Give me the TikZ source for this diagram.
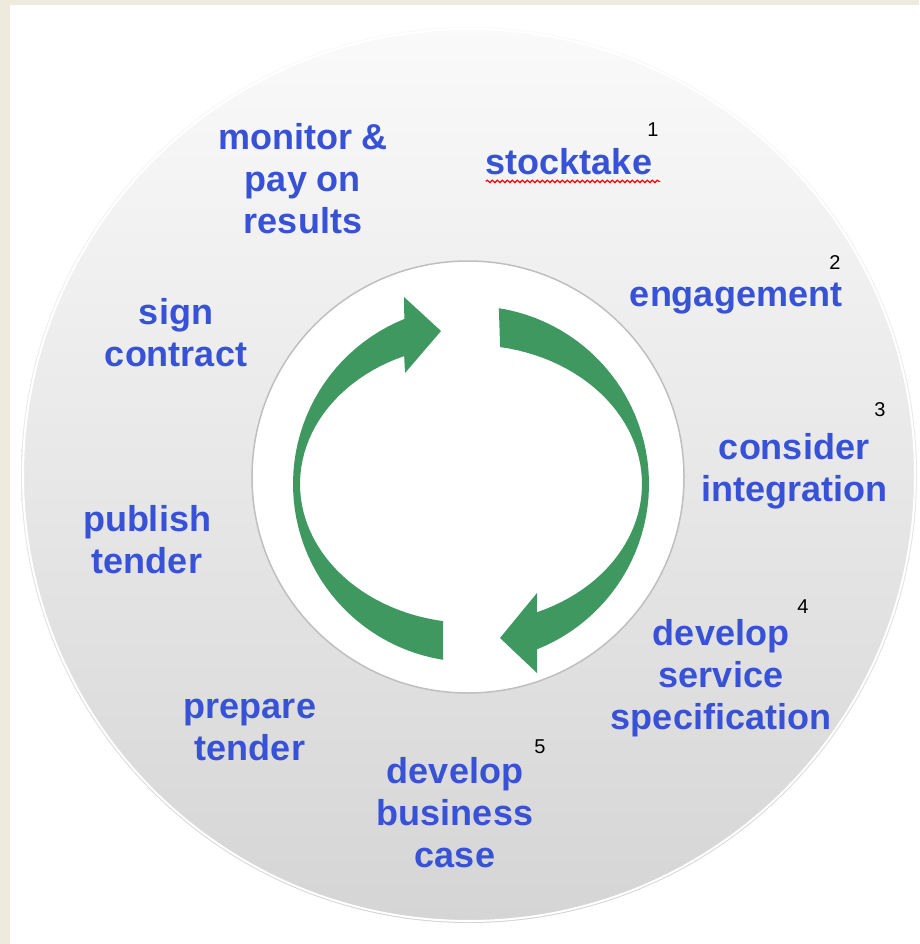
\documentclass[tikz,border=0pt]{standalone}
\usepackage{fontspec}
\setmainfont{Liberation Sans}
\usepackage{xcolor}
\usepackage{tikz}
\usetikzlibrary{shapes,arrows,positioning,calc,decorations.pathmorphing,arrows.meta}

\definecolor{paper}{RGB}{238,234,222}
\definecolor{cyclegreen}{RGB}{62,152,96}
\definecolor{stageblue}{RGB}{55,82,215}

\tikzset{
  stage/.style={font=\bfseries\fontsize{36}{42}\selectfont, text=stageblue,
    align=center, anchor=north, inner sep=0pt, execute at begin node=\strut},
  num/.style={font=\fontsize{20}{24}\selectfont, inner sep=0pt}
}

\begin{document}
\begin{tikzpicture}[x=1pt,y=-1pt]
    \useasboundingbox (0,0) rectangle (919,944);
    \fill[paper] (0,0) rectangle (919,944);
    \fill[white] (10,5) rectangle (919,944);

    % Ring
    \shade[top color=gray!4, bottom color=gray!33] (469,475) circle (448);
    \draw[white, line width=2pt] (469,475) circle (446);
    \fill[white] (468,477) circle (216);
    \draw[gray!50, line width=1.5pt] (468,477) circle (216);

    % Cycle arrows
    \fill[cyclegreen]
        plot[domain=99:248, samples=50] ({471+178*cos(\x)},{484+178*sin(\x)})
        -- (404,297) -- (441,331) -- (405,373)
        -- plot[domain=247:99.4, samples=50] ({471+171*cos(\x)},{484+139*sin(\x)})
        -- cycle;
    \fill[cyclegreen]
        plot[domain=-81:68.2, samples=50] ({471+178*cos(\x)},{484+178*sin(\x)})
        -- (537,673) -- (500,638) -- (537,593)
        -- plot[domain=67.3:-80.2, samples=50] ({471+171*cos(\x)},{484+139*sin(\x)})
        -- cycle;

    % Stages
    \node[stage] (monitor) at (303,123) {monitor \&\\pay on\\results};
    \node[stage] (stocktake) at (569,145) {stocktake};
    \node[stage] (engage) at (736,277) {engagement};
    \node[stage] (integr) at (794,433) {consider\\integration};
    \node[stage] (spec) at (721,619) {develop\\service\\specification};
    \node[stage] (bizcase) at (455,757) {develop\\business\\case};
    \node[stage] (prep) at (250,699) {prepare\\tender};
    \node[stage] (publish) at (147,505) {publish\\tender};
    \node[stage] (sign) at (176,298) {sign\\contract};

    \draw[red, line width=1.2pt, decorate, decoration={snake, amplitude=1.2pt, segment length=5pt}]
        ([yshift=6pt]stocktake.south west) -- ([xshift=8pt,yshift=6pt]stocktake.south east);

    % Numbers
    \node[num] (n1) at (653,130) {1};
    \node[num] (n2) at (835,263) {2};
    \node[num] (n3) at (880,410) {3};
    \node[num] (n4) at (803,607) {4};
    \node[num] (n5) at (540,747) {5};
\end{tikzpicture}
\end{document}
